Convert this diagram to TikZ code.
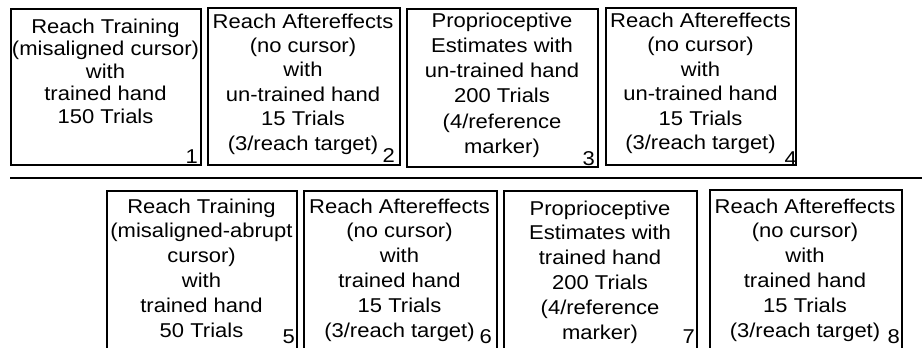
\documentclass[tikz,border=0pt]{standalone}
\usepackage{fontspec}
\setmainfont{Liberation Sans}[FakeStretch=1.1]
\usetikzlibrary{fit}
\newcommand{\boxtext}[2]{\fontsize{15pt}{#1}\selectfont\begin{tabular}[t]{@{}c@{}}#2\end{tabular}}
\begin{document}
\begin{tikzpicture}[x=0.75pt,y=-0.75pt,
  box/.style={draw=black, line width=1.5pt, inner sep=0pt},
  txt/.style={anchor=base, inner sep=0pt, text=black},
  num/.style={anchor=base east, inner sep=0pt, text=black, font=\fontsize{15pt}{17pt}\selectfont},
  rule/.style={draw=black, line width=1.5pt}]
\useasboundingbox (0,0) rectangle (922,347);
\clip (0,0) rectangle (922,347);
\fill[white] (0,0) rectangle (922,347);

% top row boxes
\node[box, fit={(10.5,8.5) (200.5,164.5)}] (b1) {};
\node[box, fit={(207.5,7.5) (399.5,164.5)}] (b2) {};
\node[box, fit={(406.5,8.5) (597.5,166.5)}] (b3) {};
\node[box, fit={(605.5,7.5) (795.5,164.5)}] (b4) {};

% separator
\coordinate (hl) at (10,178);
\coordinate (hr) at (922,178);
\draw[rule] (hl) -- (hr);

% bottom row boxes
\node[box, fit={(106.5,190.5) (296.5,360)}] (b5) {};
\node[box, fit={(303.5,190.5) (496.5,360)}] (b6) {};
\node[box, fit={(503.5,190.5) (696.5,360)}] (b7) {};
\node[box, fit={(709.5,189.5) (901.5,360)}] (b8) {};

% texts
\node[txt] (t1) at (105.5,33.3) {\boxtext{16.9pt}{Reach Training\\(misaligned cursor)\\with\\trained hand\\150 Trials}};
\node[txt] (t2) at (303,28) {\boxtext{18.3pt}{Reach Aftereffects\\(no cursor)\\with\\un-trained hand\\15 Trials\\(3/reach target)\hspace{9pt}}};
\node[txt] (t3) at (502,27.3) {\boxtext{18.9pt}{Proprioceptive\\Estimates with\\un-trained hand\\200 Trials\\(4/reference\\marker)}};
\node[txt] (t4) at (700.5,27.3) {\boxtext{18.4pt}{Reach Aftereffects\\(no cursor)\\with\\un-trained hand\\15 Trials\\(3/reach target)}};

\node[txt] (t5) at (201.5,213) {\boxtext{18.6pt}{Reach Training\\(misaligned-abrupt\\cursor)\\with\\trained hand\\50 Trials}};
\node[txt] (t6) at (399.5,213) {\boxtext{18.6pt}{Reach Aftereffects\\(no cursor)\\with\\trained hand\\15 Trials\\(3/reach target)\hspace{12pt}}};
\node[txt] (t7) at (600,215) {\boxtext{18.6pt}{Proprioceptive\\Estimates with\\trained hand\\200 Trials\\(4/reference\\marker)}};
\node[txt] (t8) at (805,213) {\boxtext{18.6pt}{Reach Aftereffects\\(no cursor)\\with\\trained hand\\15 Trials\\(3/reach target)\hspace{3pt}}};

% numbers
\node[num] (n1) at (198,163) {1};
\node[num] (n2) at (395,162) {2};
\node[num] (n3) at (595,165) {3};
\node[num] (n4) at (797,165) {4};
\node[num] (n5) at (295,343) {5};
\node[num] (n6) at (492,343) {6};
\node[num] (n7) at (695,343) {7};
\node[num] (n8) at (900,343) {8};
\end{tikzpicture}
\end{document}
